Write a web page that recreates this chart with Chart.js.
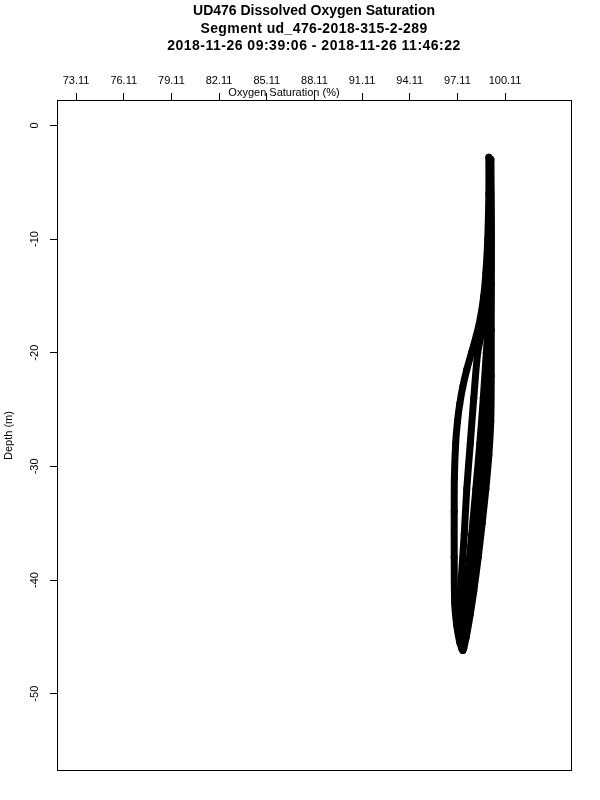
<!DOCTYPE html>
<html>
<head>
<meta charset="utf-8">
<script src="https://cdn.jsdelivr.net/npm/chart.js@4.4.1/dist/chart.umd.min.js"></script>
<style>
  body { margin: 0; background: #fff; }
  #canvas { display: block; }
</style>
</head>
<body>
<canvas id="canvas" width="600" height="800"></canvas>
<script>
const titleLines = [
  "UD476 Dissolved Oxygen Saturation",
  "Segment ud_476-2018-315-2-289",
  "2018-11-26 09:39:06 - 2018-11-26 11:46:22"
];
const xTitle = "Oxygen Saturation (%)";
const yTitle = "Depth (m)";

const satTicks = [73.11, 76.11, 79.11, 82.11, 85.11, 88.11, 91.11, 94.11, 97.11, 100.11];
const depthTicks = [0, -10, -20, -30, -40, -50];

// casts (depth m, saturation %)
const cast1Depth = [-2.8, -6, -10, -13, -15, -17, -18.5, -20, -21.5, -23, -24.5, -26, -28, -31, -34, -38, -42, -44, -45.5, -46.2];
const cast1Sat = [99.09, 99.09, 99.02, 98.90, 98.77, 98.55, 98.30, 98.00, 97.70, 97.45, 97.26, 97.12, 97.00, 96.92, 96.91, 96.91, 96.94, 97.07, 97.26, 97.45];

const cast2Depth = [-3, -8, -12, -15, -18, -20, -24, -28, -32, -36, -40, -43, -45, -46];
const cast2Sat = [99.15, 99.15, 99.09, 98.96, 98.67, 98.39, 98.14, 97.92, 97.70, 97.54, 97.35, 97.26, 97.29, 97.38];

const cast3Depth = [-3, -8, -12, -16, -20, -24, -28, -32, -36, -40, -43, -45, -46];
const cast3Sat = [99.21, 99.21, 99.21, 99.12, 98.93, 98.74, 98.52, 98.27, 98.01, 97.73, 97.51, 97.42, 97.45];

const cast4Depth = [-3, -10, -16, -20, -24, -28, -32, -36, -40, -43, -45, -46];
const cast4Sat = [99.21, 99.24, 99.21, 99.12, 99.02, 98.87, 98.64, 98.36, 98.04, 97.76, 97.57, 97.48];

const cast5Depth = [-3, -6, -10, -14, -18, -22, -26, -29, -32, -35, -38, -41, -43, -45, -46];
const cast5Sat = [99.15, 99.21, 99.24, 99.24, 99.24, 99.24, 99.21, 99.09, 98.90, 98.67, 98.42, 98.14, 97.92, 97.67, 97.51];

const casts = [
  [cast1Sat, cast1Depth],
  [cast2Sat, cast2Depth],
  [cast3Sat, cast3Depth],
  [cast4Sat, cast4Depth],
  [cast5Sat, cast5Depth]
];

const FONT = "'Liberation Sans', Arial, Helvetica, sans-serif";

const datasets = casts.map(([sat, depth]) => ({
  data: sat.map((s, i) => ({ x: s, y: depth[i] })),
  showLine: true,
  borderColor: '#000',
  backgroundColor: '#000',
  borderWidth: 7,
  borderCapStyle: 'round',
  borderJoinStyle: 'round',
  tension: 0.3,
  pointRadius: 3.5,
  pointBorderWidth: 0
}));

const frame = {
  id: 'frame',
  afterDraw(chart) {
    const { ctx, chartArea: a, scales } = chart;
    ctx.save();
    ctx.strokeStyle = '#000';
    ctx.lineWidth = 1;
    ctx.strokeRect(a.left + 0.5, a.top + 0.5, a.right - a.left, a.bottom - a.top - 1);

    ctx.fillStyle = '#000';
    const cx = (a.left + a.right) / 2;
    ctx.textAlign = 'center';
    ctx.textBaseline = 'alphabetic';
    ctx.font = 'bold 14px ' + FONT;
    const spacing = ['0px', '0.4px', '0.5px'];
    titleLines.forEach((t, i) => {
      ctx.letterSpacing = spacing[i];
      ctx.fillText(t, cx, 15 + i * 17.5);
    });
    ctx.letterSpacing = '0px';

    ctx.font = '11px ' + FONT;
    ctx.fillText(xTitle, 284, 96);

    // rotated depth labels
    const ys = scales.y;
    ctx.textBaseline = 'middle';
    ys.ticks.forEach(t => {
      const py = ys.getPixelForValue(t.value);
      ctx.save();
      ctx.translate(35, py);
      ctx.rotate(-Math.PI / 2);
      ctx.fillText(String(t.value), 0, 0);
      ctx.restore();
    });
    ctx.save();
    ctx.translate(9, (a.top + a.bottom) / 2);
    ctx.rotate(-Math.PI / 2);
    ctx.fillText(yTitle, 0, 0);
    ctx.restore();
    ctx.restore();
  }
};

new Chart(document.getElementById('canvas'), {
  type: 'scatter',
  data: { datasets },
  options: {
    responsive: false,
    animation: false,
    devicePixelRatio: 1,
    layout: { padding: { top: 0, left: 0, right: 29, bottom: 29 } },
    plugins: {
      legend: { display: false },
      title: { display: false },
      tooltip: { enabled: false }
    },
    scales: {
      x: {
        type: 'linear',
        position: 'top',
        min: 71.91,
        max: 104.26,
        afterBuildTicks: s => { s.ticks = satTicks.map(v => ({ value: v })); },
        afterFit: s => { s.height = 100; },
        grid: {
          drawOnChartArea: false,
          drawTicks: true,
          tickLength: 7,
          tickColor: '#000',
          tickWidth: 1
        },
        border: { display: false },
        ticks: {
          autoSkip: false,
          maxRotation: 0,
          padding: 5,
          color: '#000',
          font: { family: FONT, size: 11 },
          callback: v => v.toFixed(2)
        }
      },
      y: {
        type: 'linear',
        position: 'left',
        min: -56.8,
        max: 2.23,
        afterBuildTicks: s => { s.ticks = depthTicks.map(v => ({ value: v })); },
        afterFit: s => { s.width = 57; },
        grid: {
          drawOnChartArea: false,
          drawTicks: true,
          tickLength: 7,
          tickColor: '#000',
          tickWidth: 1
        },
        border: { display: false },
        ticks: { display: false }
      }
    }
  },
  plugins: [frame]
});
</script>
</body>
</html>
